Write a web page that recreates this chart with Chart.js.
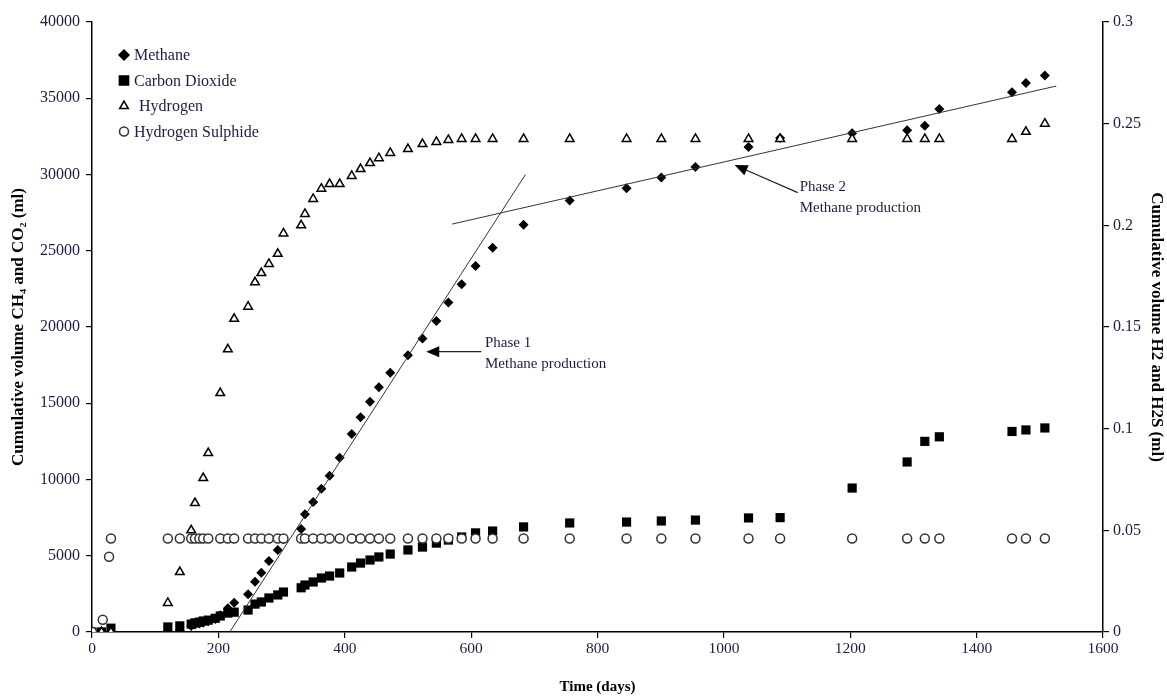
<!DOCTYPE html>
<html>
<head>
<meta charset="utf-8">
<script src="https://cdn.jsdelivr.net/npm/chart.js@4.4.0/dist/chart.umd.min.js"></script>
<style>
  body { margin: 0; background: #fff; }
  #wrap { width: 1167px; height: 696px; }
</style>
</head>
<body>
<div id="wrap"><canvas id="gasChart"></canvas></div>
<script>
// sampling days and cumulative volumes
const methaneDays = [0, 15, 30, 120, 139, 157, 163, 170, 176, 184, 195, 203, 215, 225, 247, 258, 268, 280, 294, 303,
  331, 337, 350, 363, 376, 392, 411, 425, 440, 454, 472, 500, 523, 545, 564, 585, 607, 634, 683, 756,
  846, 901, 955, 1039, 1089, 1203, 1290, 1318, 1341, 1456, 1478, 1508];
const methane = [0, 0, 0, 50, 80, 400, 500, 550, 600, 700, 850, 1100, 1550, 1920, 2470, 3300, 3890, 4650, 5380, 6080,
  6750, 7720, 8520, 9400, 10250, 11430, 12980, 14080, 15100, 16050, 17000, 18150, 19250, 20400, 21600, 22800, 24000, 25200, 26700, 28300,
  29100, 29800, 30500, 31800, 32400, 32700, 32900, 33200, 34300, 35400, 36000, 36500];

const co2Days = methaneDays;
const co2 = [0, 0, 250, 330, 400, 520, 600, 650, 720, 780, 900, 1050, 1240, 1300, 1440, 1830, 1970, 2230, 2430, 2620,
  2900, 3080, 3280, 3540, 3670, 3870, 4260, 4520, 4720, 4920, 5110, 5380, 5570, 5830, 6030, 6230, 6500, 6620, 6890, 7150,
  7210, 7280, 7340, 7480, 7500, 9440, 11150, 12500, 12800, 13150, 13250, 13380];

const h2Days = [0, 15, 30, 120, 139, 157, 163, 176, 184, 203, 215, 225, 247, 258, 268, 280, 294, 303,
  331, 337, 350, 363, 376, 392, 411, 425, 440, 454, 472, 500, 523, 545, 564, 585, 607, 634, 683, 756,
  846, 901, 955, 1039, 1089, 1203, 1290, 1318, 1341, 1456, 1478, 1508];
const h2 = [0, 0, 0, 0.0143, 0.0295, 0.050, 0.0634, 0.0757, 0.088, 0.1175, 0.139, 0.154, 0.160, 0.172, 0.1765, 0.181, 0.186, 0.196,
  0.200, 0.2056, 0.213, 0.218, 0.2203, 0.2203, 0.2243, 0.2277, 0.2306, 0.233, 0.2356, 0.2375, 0.240, 0.241, 0.242, 0.2425, 0.2425, 0.2425, 0.2425, 0.2425,
  0.2425, 0.2425, 0.2425, 0.2425, 0.2425, 0.2425, 0.2425, 0.2425, 0.2425, 0.2425, 0.246, 0.250];

const h2sDays = [0, 17, 27, 30, 120, 139, 157, 163, 170, 176, 184, 203, 215, 225, 247, 258, 268, 280, 294, 303,
  331, 337, 350, 363, 376, 392, 411, 425, 440, 454, 472, 500, 523, 545, 564, 585, 607, 634, 683, 756,
  846, 901, 955, 1039, 1089, 1203, 1290, 1318, 1341, 1456, 1478, 1508];
const h2s = [0, 0.006, 0.037, 0.046, 0.046, 0.046, 0.046, 0.046, 0.046, 0.046, 0.046, 0.046, 0.046, 0.046, 0.046, 0.046, 0.046, 0.046, 0.046, 0.046,
  0.046, 0.046, 0.046, 0.046, 0.046, 0.046, 0.046, 0.046, 0.046, 0.046, 0.046, 0.046, 0.046, 0.046, 0.046, 0.046, 0.046, 0.046, 0.046, 0.046,
  0.046, 0.046, 0.046, 0.046, 0.046, 0.046, 0.046, 0.046, 0.046, 0.046, 0.046, 0.046];

// trend lines (day, ml)
const phase1Line = [[218, 0], [686, 30000]];
const phase2Line = [[570, 26750], [1526, 35800]];

const dayTicks = [0, 200, 400, 600, 800, 1000, 1200, 1400, 1600];
const leftTicks = [0, 5000, 10000, 15000, 20000, 25000, 30000, 35000, 40000];
const rightTicks = ['0', '0.05', '0.1', '0.15', '0.2', '0.25', '0.3'];

const serif = '"Liberation Serif", "Times New Roman", serif';
const textCol = '#1c1c44';

function pts(xs, ys) { return xs.map((d, i) => ({ x: d, y: ys[i] })); }

const legendItems = [
  { label: 'Methane', style: 'rectRot', r: 5, fill: '#000', stroke: '#000', dx: 0 },
  { label: 'Carbon Dioxide', style: 'rect', r: 6.5, fill: '#000', stroke: '#000', dx: 0 },
  { label: 'Hydrogen', style: 'triangle', r: 5, fill: '#fff', stroke: '#000', dx: 5 },
  { label: 'Hydrogen Sulphide', style: 'circle', r: 4.5, fill: '#fff', stroke: '#333', dx: 0 }
];

// annotation positions in data units (day, ml on left axis)
const notes = [
  { lines: ['Phase 1', 'Methane production'], at: [622, 18970], gap: 1420, tail: [616, 18380], tip: [529, 18380] },
  { lines: ['Phase 2', 'Methane production'], at: [1120, 29160], gap: 1380, tail: [1117, 28810], tip: [1017, 30620] }
];

const extras = {
  id: 'extras',
  afterDatasetsDraw(chart) {
    const c = chart.ctx, x = chart.scales.x, y = chart.scales.y;
    c.save();
    // legend
    legendItems.forEach((it, i) => {
      const ly = 55 + i * 25.5;
      c.fillStyle = it.fill; c.strokeStyle = it.stroke; c.lineWidth = 1.5;
      Chart.helpers.drawPoint(c, { pointStyle: it.style, radius: it.r, borderWidth: 1.5 }, 124, ly);
      c.fillStyle = textCol;
      c.font = '16px ' + serif;
      c.textBaseline = 'middle';
      c.fillText(it.label, 134 + it.dx, ly + 1);
    });
    // annotations
    c.font = '15px ' + serif;
    c.textBaseline = 'middle';
    notes.forEach(n => {
      c.fillStyle = textCol;
      c.fillText(n.lines[0], x.getPixelForValue(n.at[0]), y.getPixelForValue(n.at[1]));
      c.fillText(n.lines[1], x.getPixelForValue(n.at[0]), y.getPixelForValue(n.at[1] - n.gap));
      const tx = x.getPixelForValue(n.tail[0]), ty = y.getPixelForValue(n.tail[1]);
      const px = x.getPixelForValue(n.tip[0]), py = y.getPixelForValue(n.tip[1]);
      const a = Math.atan2(py - ty, px - tx);
      c.strokeStyle = '#222'; c.lineWidth = 1.2;
      c.beginPath(); c.moveTo(tx, ty); c.lineTo(px - 8 * Math.cos(a), py - 8 * Math.sin(a)); c.stroke();
      c.fillStyle = '#000';
      c.beginPath();
      c.moveTo(px, py);
      c.lineTo(px - 13 * Math.cos(a) + 5.5 * Math.sin(a), py - 13 * Math.sin(a) - 5.5 * Math.cos(a));
      c.lineTo(px - 13 * Math.cos(a) - 5.5 * Math.sin(a), py - 13 * Math.sin(a) + 5.5 * Math.cos(a));
      c.closePath(); c.fill();
    });
    c.restore();
  }
};

const tickGrid = { drawOnChartArea: false, drawTicks: true, tickLength: 6, color: '#000', lineWidth: 1.2 };
const axisBorder = { display: true, color: '#000', width: 1.5 };

new Chart(document.getElementById('gasChart'), {
  type: 'scatter',
  data: {
    datasets: [
      { label: 'Phase 1 trend', data: phase1Line.map(p => ({ x: p[0], y: p[1] })), showLine: true, borderColor: '#333', borderWidth: 1, pointRadius: 0, yAxisID: 'y' },
      { label: 'Phase 2 trend', data: phase2Line.map(p => ({ x: p[0], y: p[1] })), showLine: true, borderColor: '#333', borderWidth: 1, pointRadius: 0, yAxisID: 'y' },
      { label: 'Hydrogen Sulphide', data: pts(h2sDays, h2s), yAxisID: 'y2', pointStyle: 'circle', pointRadius: 4.5, backgroundColor: '#fff', borderColor: '#333', borderWidth: 1.5 },
      { label: 'Hydrogen', data: pts(h2Days, h2), yAxisID: 'y2', pointStyle: 'triangle', pointRadius: 5, backgroundColor: '#fff', borderColor: '#000', borderWidth: 1.5 },
      { label: 'Carbon Dioxide', data: pts(co2Days, co2), yAxisID: 'y', pointStyle: 'rect', pointRadius: 6.5, backgroundColor: '#000', borderColor: '#000', borderWidth: 0 },
      { label: 'Methane', data: pts(methaneDays, methane), yAxisID: 'y', pointStyle: 'rectRot', pointRadius: 5, backgroundColor: '#000', borderColor: '#000', borderWidth: 0 }
    ]
  },
  options: {
    responsive: true,
    maintainAspectRatio: false,
    animation: false,
    layout: { padding: { top: 22, left: 0, right: 0, bottom: 0 } },
    plugins: { legend: { display: false }, tooltip: { enabled: false } },
    scales: {
      x: {
        type: 'linear', min: 0, max: 1600,
        afterBuildTicks: s => { s.ticks = dayTicks.map(v => ({ value: v })); },
        afterFit: s => { s.height = 64; },
        grid: tickGrid, border: axisBorder,
        ticks: { color: textCol, font: { family: serif, size: 15.5 }, padding: 2, maxRotation: 0, callback: v => String(v) },
        title: { display: true, text: 'Time (days)', color: '#000', font: { family: serif, size: 15, weight: 'bold' }, padding: { top: 8, bottom: 0 } }
      },
      y: {
        type: 'linear', position: 'left', min: 0, max: 40000,
        afterBuildTicks: s => { s.ticks = leftTicks.map(v => ({ value: v })); },
        afterFit: s => { s.width = 92; },
        grid: tickGrid, border: axisBorder,
        ticks: { color: textCol, font: { family: serif, size: 16 }, padding: 6, callback: v => String(v) },
        title: { display: true, text: 'Cumulative volume CH\u2084 and CO\u2082 (ml)', color: '#000', font: { family: serif, size: 17, weight: 'bold' }, padding: { top: 8, bottom: 0 } }
      },
      y2: {
        type: 'linear', position: 'right', min: 0, max: 0.3,
        afterBuildTicks: s => { s.ticks = rightTicks.map(v => ({ value: Number(v) })); },
        afterFit: s => { s.width = 64; },
        grid: tickGrid, border: axisBorder,
        ticks: { color: textCol, font: { family: serif, size: 16 }, padding: 4, callback: (v, i) => rightTicks[i] },
        title: { display: true, text: 'Cumulative volume H2 and H2S (ml)', color: '#000', font: { family: serif, size: 17, weight: 'bold' }, padding: { top: 0, bottom: 0 } }
      }
    }
  },
  plugins: [extras]
});
</script>
</body>
</html>
